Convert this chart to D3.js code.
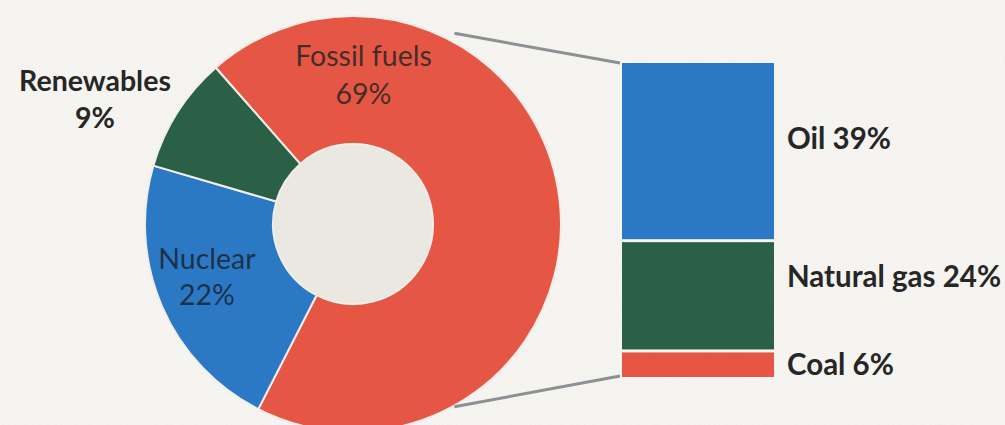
<!DOCTYPE html>
<html>
<head>
<meta charset="utf-8">
<script src="https://cdn.jsdelivr.net/npm/d3@7"></script>
<style>
  html, body { margin: 0; padding: 0; background: #f7f5f1; }
  svg { display: block; }
</style>
</head>
<body>
<svg id="chart" width="1005" height="425"></svg>
<script>
// ---- data ----
const categories = ["Fossil fuels", "Nuclear", "Renewables"];
const shares = [69, 22, 9];
const fossilParts = ["Oil", "Natural gas", "Coal"];
const fossilShares = [39, 24, 6];

// ---- styles ----
const sliceColors = ["#e55645", "#2b78c4", "#2a6045"];
const partColors = ["#2b78c4", "#2a6045", "#e55645"];

const W = 1005, H = 425;
const svg = d3.select("#chart");

// background with subtle paper texture
const defs = svg.append("defs");
const f = defs.append("filter").attr("id", "paper").attr("x", 0).attr("y", 0).attr("width", "100%").attr("height", "100%");
f.append("feTurbulence").attr("type", "fractalNoise").attr("baseFrequency", 0.9).attr("numOctaves", 2).attr("seed", 3).attr("result", "n");
f.append("feColorMatrix").attr("type", "matrix")
  .attr("values", "0 0 0 0 0.55  0 0 0 0 0.53  0 0 0 0 0.5  0 0 0 0.5 -0.18");
svg.append("rect").attr("width", W).attr("height", H).attr("fill", "#f7f5f1");
svg.append("rect").attr("width", W).attr("height", H).attr("filter", "url(#paper)").attr("opacity", 0.35);

// ---- donut ----
const cx = 353, cy = 224, R = 208, r0 = 80;
const start = -41.3 * Math.PI / 180;
const pie = d3.pie().sort(null).value(d => d).startAngle(start).endAngle(start + 2 * Math.PI);
const arcs = pie(shares);
const arc = d3.arc().innerRadius(r0).outerRadius(R);

const g = svg.append("g").attr("transform", `translate(${cx},${cy})`);
g.append("circle").attr("r", r0).attr("fill", "#ebe8e2");
g.selectAll("path.slice").data(arcs).join("path")
  .attr("class", "slice")
  .attr("d", arc)
  .attr("fill", (d, i) => sliceColors[i])
  .attr("stroke", "#f1eee9")
  .attr("stroke-width", 2);

// ---- stacked bar ----
const barX = 622, barW = 152, barTop = 63, barBottom = 380, gap = 3;
const total = d3.sum(fossilShares);
const y = d3.scaleLinear().domain([0, total]).range([barTop, barBottom]);
const cum = d3.cumsum(fossilShares);
const segs = fossilShares.map((v, i) => ({
  name: fossilParts[i], v,
  y0: y(cum[i] - v),
  y1: y(cum[i]) - gap
}));

// connector lines
const angTop = 28 * Math.PI / 180, angBot = 151 * Math.PI / 180;
const conn = [
  [[cx + (R + 8) * Math.sin(angTop), cy - (R + 8) * Math.cos(angTop)], [barX - 2, segs[0].y0]],
  [[cx + (R + 1) * Math.sin(angBot), cy - (R + 1) * Math.cos(angBot)], [barX - 2, segs[2].y1 - 1]]
];
svg.selectAll("line.conn").data(conn).join("line")
  .attr("class", "conn")
  .attr("x1", d => d[0][0]).attr("y1", d => d[0][1])
  .attr("x2", d => d[1][0]).attr("y2", d => d[1][1])
  .attr("stroke", "#8c9094").attr("stroke-width", 3);

svg.selectAll("rect.seg").data(segs).join("rect")
  .attr("class", "seg")
  .attr("x", barX).attr("width", barW)
  .attr("y", d => d.y0).attr("height", d => d.y1 - d.y0)
  .attr("fill", (d, i) => partColors[i]);

const labelNudge = [-13, -19, 0];
svg.selectAll("text.seglab").data(segs).join("text")
  .attr("class", "seglab")
  .attr("x", barX + barW + 13)
  .attr("y", (d, i) => (d.y0 + d.y1) / 2 + labelNudge[i])
  .attr("dy", "0.36em")
  .attr("font-family", "Lato, 'Open Sans', sans-serif")
  .attr("font-weight", 700)
  .attr("font-size", 29.5)
  .attr("fill", "#262626")
  .text(d => `${d.name} ${d.v}%`);

// ---- donut labels ----
const labelFont = "Lato, 'Open Sans', sans-serif";
function twoLine(x, yTop, l1, l2, opts) {
  const t = svg.append("text")
    .attr("text-anchor", "middle")
    .attr("font-family", labelFont)
    .attr("font-size", opts.size)
    .attr("font-weight", opts.weight)
    .attr("fill", opts.fill)
    .attr("fill-opacity", opts.opacity);
  t.append("tspan").attr("x", x).attr("y", yTop).text(l1);
  t.append("tspan").attr("x", x).attr("y", yTop + opts.lh).text(l2);
}
// Fossil fuels at top of red ring
const fosA = 4 * Math.PI / 180, fosR = 150;
twoLine(cx + fosR * Math.sin(fosA), cy - fosR * Math.cos(fosA) - 8,
  categories[0], shares[0] + "%", { size: 28.5, weight: 400, fill: "#262626", opacity: 0.85, lh: 38 });
// Nuclear at its slice centroid
const nucC = d3.arc().innerRadius(r0).outerRadius(R + 30).centroid(arcs[1]);
twoLine(cx + nucC[0], cy + nucC[1] - 18,
  categories[1], shares[1] + "%", { size: 28.5, weight: 400, fill: "#1a2431", opacity: 0.85, lh: 36 });
// Renewables outside left
twoLine(95, 91, categories[2], shares[2] + "%", { size: 28.5, weight: 700, fill: "#262626", opacity: 1, lh: 37 });
</script>
</body>
</html>
